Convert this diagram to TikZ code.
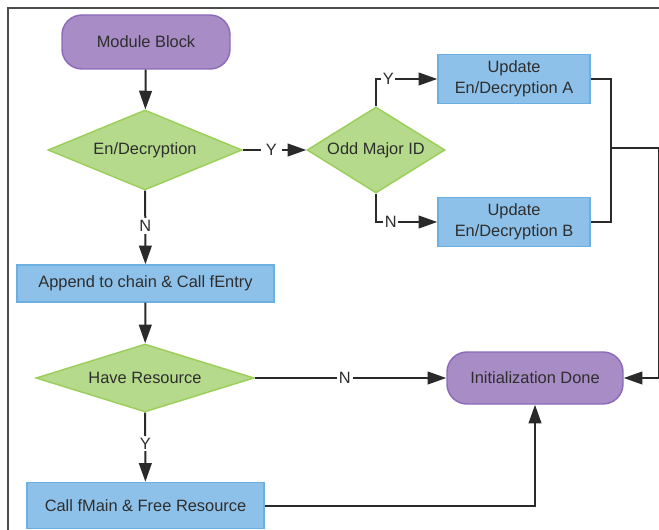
\documentclass[tikz,border=0pt]{standalone}
\usepackage{fontspec}
\setmainfont{Liberation Sans}
\usetikzlibrary{shapes.geometric,arrows.meta}

\definecolor{txt}{HTML}{2E2E2E}
\definecolor{termfill}{HTML}{A88CC6}
\definecolor{termdraw}{HTML}{8C6BBA}
\definecolor{decfill}{HTML}{B6DA8B}
\definecolor{decdraw}{HTML}{9BCF5A}
\definecolor{procfill}{HTML}{8EC1E9}
\definecolor{procdraw}{HTML}{6CAFE2}
\definecolor{linec}{HTML}{2A2A2A}

\tikzset{
  base/.style={font=\fontsize{12.3pt}{15.5pt}\selectfont, text=txt, line width=1.1pt, inner sep=0pt},
  terminal/.style={base, draw=termdraw, fill=termfill, rounded corners=15pt},
  decision/.style={base, diamond, draw=decdraw, fill=decfill, aspect=2},
  process/.style={base, draw=procdraw, fill=procfill, align=center},
  conn/.style={draw=linec, line width=1.5pt},
  arr/.style={conn, -{Triangle[length=14pt,width=9.5pt]}},
  lab/.style={font=\fontsize{12.3pt}{14pt}\selectfont, text=txt, fill=white, inner sep=1.5pt}
}

\begin{document}
\begin{tikzpicture}[x=0.75pt, y=-0.75pt]
  \useasboundingbox (0,0) rectangle (659,530);
  \fill[white] (0,0) rectangle (659,530);

  % outer frame (top and left edges)
  \draw[draw=black!70, line width=1.1pt] (659,8) -- (8,8) -- (8,531);

  % nodes
  \node[terminal, minimum width=126pt, minimum height=40.5pt] (mb) at (146,42) {Module Block};
  \node[decision, minimum width=145.5pt, minimum height=60pt] (en) at (145,150) {En/Decryption};
  \node[decision, minimum width=103.5pt, minimum height=64.5pt] (odd) at (376,150) {Odd Major ID};
  \node[process, minimum width=114pt, minimum height=36.75pt] (ua) at (514,79) {Update\\En/Decryption A};
  \node[process, minimum width=114pt, minimum height=36.75pt] (ub) at (514,222) {Update\\En/Decryption B};
  \node[process, minimum width=192.75pt, minimum height=27.75pt] (app) at (145.5,283.5) {Append to chain \& Call fEntry};
  \node[decision, minimum width=163.5pt, minimum height=43.5pt] (have) at (145,378) {Have Resource};
  \node[terminal, minimum width=132pt, minimum height=39pt] (done) at (535,378) {Initialization Done};
  \node[process, minimum width=177.75pt, minimum height=34.5pt] (call) at (145.5,505.5) {Call fMain \& Free Resource};

  % junction points on the right
  \coordinate (j) at (611,148);
  \coordinate (r) at (658.5,148);

  % connectors
  \draw[arr] (mb) -- (en);
  \draw[arr] (en) -- node[lab, pos=0.45, inner sep=4pt] {Y} (odd);
  \draw[arr] (odd.north) |- node[lab, pos=0.6, inner sep=1pt] {Y} (ua.west);
  \draw[arr] (odd.south) |- node[lab, pos=0.62, inner sep=1pt] {N} (ub.west);
  \draw[conn] (ua.east) -| (j) |- (ub.east);
  \draw[arr] (j) -- (r) |- (done.east);
  \draw[arr] (en) -- node[lab, pos=0.48] {N} (app);
  \draw[arr] (app) -- (have);
  \draw[arr] (have) -- node[lab, pos=0.47] {N} (done);
  \draw[arr] (have) -- node[lab, pos=0.45] {Y} (call);
  \draw[arr] (call.east) -| (done.south);
\end{tikzpicture}
\end{document}
